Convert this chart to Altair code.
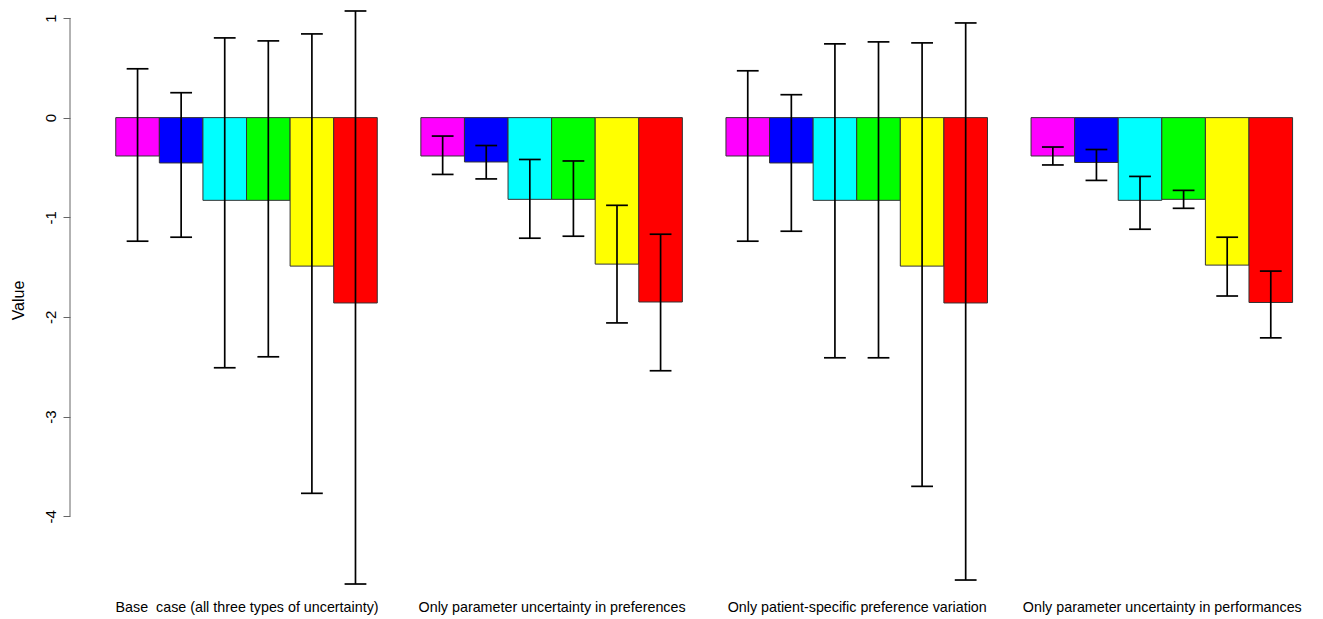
import altair as alt
import pandas as pd

groups = [
    "Base\u00a0 case (all three types of uncertainty)",
    "Only parameter uncertainty in preferences",
    "Only patient-specific preference variation",
    "Only parameter uncertainty in performances",
]
series = ["S1", "S2", "S3", "S4", "S5", "S6"]
colors = ["#FF00FF", "#0000FF", "#00FFFF", "#00FF00", "#FFFF00", "#FF0000"]

values = [
    [-0.385, -0.455, -0.83, -0.83, -1.49, -1.86],
    [-0.385, -0.445, -0.82, -0.82, -1.47, -1.85],
    [-0.385, -0.455, -0.83, -0.83, -1.49, -1.86],
    [-0.385, -0.45, -0.83, -0.82, -1.48, -1.855],
]
upper = [
    [0.49, 0.25, 0.80, 0.77, 0.84, 1.07],
    [-0.185, -0.28, -0.42, -0.435, -0.88, -1.17],
    [0.47, 0.23, 0.74, 0.76, 0.75, 0.95],
    [-0.295, -0.32, -0.59, -0.73, -1.20, -1.54],
]
lower = [
    [-1.24, -1.20, -2.51, -2.40, -3.77, -4.68],
    [-0.57, -0.615, -1.21, -1.19, -2.06, -2.54],
    [-1.24, -1.14, -2.41, -2.41, -3.70, -4.64],
    [-0.475, -0.63, -1.12, -0.91, -1.79, -2.21],
]
y_ticks = [-4, -3, -2, -1, 0, 1]

rows = []
for g, name in enumerate(groups):
    for i, s in enumerate(series):
        rows.append({"g": g, "i": i, "group": name, "series": s,
                     "value": values[g][i], "lo": lower[g][i], "hi": upper[g][i]})
df = pd.DataFrame(rows)

FONT = "Liberation Sans"
W, H = 1240, 580

x_scale = alt.Scale(domain=[-0.05, 28.4], nice=False, zero=False)
y_scale = alt.Scale(domain=[-4.72, 1.1], nice=False, zero=False)

label_arr = "[" + ",".join("'" + g + "'" for g in groups) + "]"
x_axis = alt.Axis(values=[4, 11, 18, 25], labelExpr=label_arr + "[floor(datum.value/7)]",
                  ticks=False, domain=False, grid=False, title=None,
                  labelFont=FONT, labelFontSize=14.3, labelColor="#000",
                  labelPadding=12, labelAngle=0, labelLimit=0)
y_axis = alt.Axis(values=y_ticks, labelExpr="'' + datum.value",
                  domain=False, grid=False, title="Value",
                  tickSize=7, tickColor="#666", tickWidth=1,
                  labelAngle=270, labelAlign="center", labelBaseline="bottom",
                  labelPadding=5, labelFont=FONT, labelFontSize=15, labelColor="#000",
                  titleFont=FONT, titleFontSize=16, titleFontWeight="normal",
                  titleAngle=270, titleX=-52, titleY=292, titleAlign="center",
                  titleBaseline="middle", titleColor="#000")

base = alt.Chart(df).transform_calculate(
    x0="datum.g*7 + datum.i + 1",
    x1="datum.g*7 + datum.i + 2",
    xc="datum.g*7 + datum.i + 1.5",
    cl="datum.g*7 + datum.i + 1.25",
    cr="datum.g*7 + datum.i + 1.75",
    zero="0",
)

bars = base.mark_rect(stroke="#333333", strokeWidth=1).encode(
    x=alt.X("x0:Q", scale=x_scale, axis=x_axis),
    x2="x1:Q",
    y=alt.Y("value:Q", scale=y_scale, axis=y_axis),
    y2="zero:Q",
    color=alt.Color("series:N", scale=alt.Scale(domain=series, range=colors), legend=None),
)

err = base.mark_rule(color="#000000", strokeWidth=1.7).encode(
    x=alt.X("xc:Q", scale=x_scale, axis=x_axis),
    y=alt.Y("lo:Q", scale=y_scale, axis=y_axis),
    y2="hi:Q",
)
cap_lo = base.mark_rule(color="#000000", strokeWidth=1.7).encode(
    x=alt.X("cl:Q", scale=x_scale, axis=x_axis),
    x2="cr:Q",
    y=alt.Y("lo:Q", scale=y_scale, axis=y_axis),
)
cap_hi = base.mark_rule(color="#000000", strokeWidth=1.7).encode(
    x=alt.X("cl:Q", scale=x_scale, axis=x_axis),
    x2="cr:Q",
    y=alt.Y("hi:Q", scale=y_scale, axis=y_axis),
)

axis_df = pd.DataFrame({"ymin": [min(y_ticks)], "ymax": [max(y_ticks)]})
axis_line = alt.Chart(axis_df).mark_rule(color="#666666", strokeWidth=1).encode(
    x=alt.value(0),
    y=alt.Y("ymin:Q", scale=y_scale, axis=y_axis),
    y2="ymax:Q",
)

chart = alt.layer(bars, err, cap_lo, cap_hi, axis_line).properties(
    width=W, height=H,
    background="white",
    autosize=alt.AutoSizeParams(type="none"),
    padding={"left": 62, "top": 0, "right": 0, "bottom": 31},
).configure_view(stroke=None)

chart.save("out.html", embed_options={"renderer": "svg", "actions": False})
